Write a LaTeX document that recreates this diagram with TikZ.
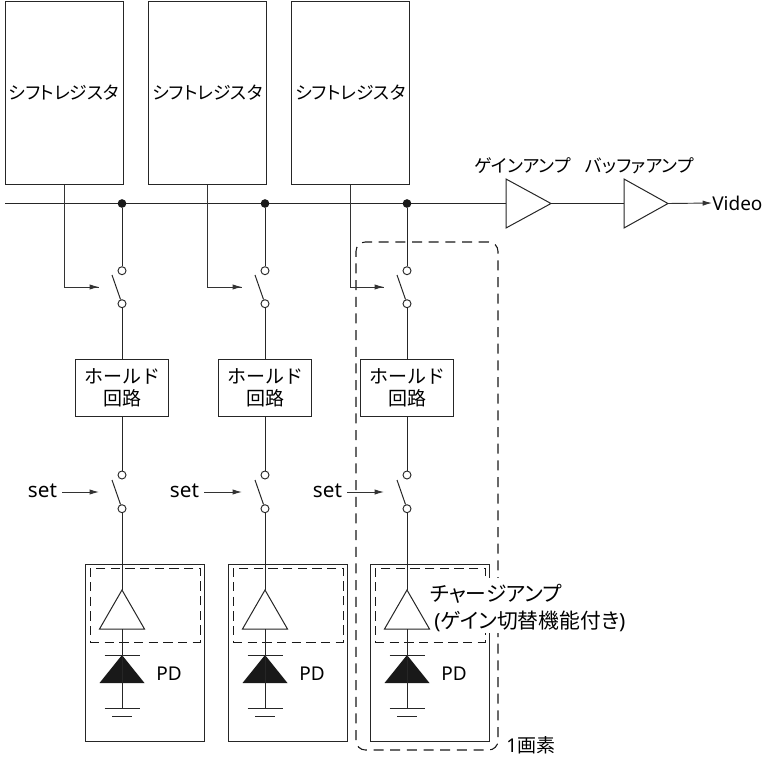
\documentclass[tikz,border=0pt]{standalone}
\usepackage{fontspec}
\setmainfont{Noto Sans}
\newfontfamily\jp{Noto Sans CJK JP}
\newfontfamily\jpp[RawFeature=+palt]{Noto Sans CJK JP}
\usetikzlibrary{arrows.meta}
\newcommand{\fsz}[1]{\fontsize{#1}{#1}\selectfont}
\tikzset{
  every node/.style={font=\fsz{14.25}},
  wire/.style={line width=0.75pt,draw=black!85},
  thin wire/.style={line width=0.7pt,draw=black!80},
  tip/.style={thin wire,-{Latex[length=7pt,width=4pt]}},
  srbox/.style={draw=black!85,line width=0.75pt,minimum width=88.5pt,minimum height=137.25pt,inner sep=0pt},
  holdbox/.style={draw=black!85,line width=0.75pt,minimum width=69.75pt,minimum height=42.75pt,inner sep=0pt,align=center},
  pdbox/.style={draw=black!85,line width=0.75pt,minimum width=89.25pt,minimum height=132.75pt,inner sep=0pt},
  ampbox/.style={draw=black!90,dashed,dash pattern=on 7pt off 4pt,line width=0.75pt,minimum width=82.5pt,minimum height=55.5pt,inner sep=0pt},
  pinc/.style={circle,draw=black!85,fill=white,line width=0.7pt,minimum size=6pt,inner sep=0pt},
  dotn/.style={circle,fill=black!90,minimum size=6.5pt,inner sep=0pt},
  lab/.style={inner sep=0pt},
  tri/.style={draw=black!85,line width=0.75pt,fill=white,line join=miter},
}
\begin{document}
\begin{tikzpicture}[x=0.75pt,y=-0.75pt]
\useasboundingbox (0,0) rectangle (764,758);
% outer dashed 1-pixel frame
\node[draw=black!90,dashed,dash pattern=on 7.5pt off 5pt,line width=0.8pt,rounded corners=7pt,
  minimum width=106.5pt,minimum height=381pt,inner sep=0pt] (pixel) at (427,496) {};
% bus
\coordinate (busL) at (5,203.5);
\coordinate (g1) at (506,203.5);
\coordinate (gTop) at (506,179);
\coordinate (gBot) at (506,228);
\coordinate (g2) at (551,203.5);
\coordinate (b1) at (624,203.5);
\coordinate (bTop) at (624,179);
\coordinate (bBot) at (624,228);
\coordinate (b2) at (668,203.5);
\draw[wire] (busL) -- (g1);
\draw[wire] (g2) -- (b1);
\draw[tri] (gTop) -- (g2) -- (gBot) -- cycle;
\draw[tri] (bTop) -- (b2) -- (bBot) -- cycle;
\node[lab,anchor=west] (video) at (712,203) {Video};
\draw[tip] (b2) -- (video.west);
\node[lab] (gainlab) at (522.5,166) {\fsz{13.4}\jpp ゲインアンプ};
\node[lab] (buflab) at (639.5,166) {\fsz{13.4}\jpp バッファアンプ};
\foreach \i/\c/\s/\sx in {1/122/64/42.5,2/265/207.5/184.5,3/407/350.5/327.5}{
  \node[srbox] (sr\i) at (\s,92.5) {\raisebox{-3pt}{\fsz{13.4}\jpp シフトレジスタ}};
  \node[dotn] (dot\i) at (\c,203.5) {};
  \node[pinc] (swa\i) at (\c,270.7) {};
  \node[pinc] (swb\i) at (\c,303.7) {};
  \coordinate (arm\i) at (\c-10,275);
  \coordinate (ctl\i) at (\c-23,287);
  \node[holdbox] (hold\i) at (\c,387.5) {\raisebox{-2.5pt}{\jp ホールド}\\[2pt]\raisebox{-2.5pt}{\jp 回路}};
  \node[pinc] (ssa\i) at (\c,475) {};
  \node[pinc] (ssb\i) at (\c,508.7) {};
  \coordinate (sarm\i) at (\c-10,480);
  \coordinate (sctl\i) at (\c-23,492);
  \node[lab] (set\i) at (\sx,490.5) {\fsz{15.5}set};
  \node[pdbox] (pd\i) at (\c+22.5,652.5) {};
  \node[ampbox] (amp\i) at (\c+23,605) {};
  \coordinate (apex\i) at (\c,590);
  \coordinate (triL\i) at (\c-22.5,629);
  \coordinate (triR\i) at (\c+22.5,629);
  \coordinate (triB\i) at (\c,629);
  \coordinate (dTop\i) at (\c,655);
  \coordinate (dL\i) at (\c-22.5,683);
  \coordinate (dR\i) at (\c+22.5,683);
  \coordinate (gnd\i) at (\c,708);
  \node[lab] (pdlab\i) at (\c+47,674) {PD};
  % connectors
  \draw[wire] (dot\i) -- (swa\i);
  \draw[wire] (swb\i) -- (hold\i.north);
  \draw[wire] (swb\i) -- (arm\i);
  \draw[thin wire] (sr\i.south) |- (ctl\i);
  \draw[tip] (sr\i.south |- ctl\i) -- (ctl\i);
  \draw[wire] (hold\i.south) -- (ssa\i);
  \draw[wire] (ssb\i) -- (apex\i);
  \draw[wire] (ssb\i) -- (sarm\i);
  \draw[tip] (set\i.east) ++(5,1.5) -- (sctl\i);
  \draw[tri] (apex\i) -- (triR\i) -- (triL\i) -- cycle;
  \draw[wire] (triB\i) -- (dTop\i);
  \draw[wire] ([xshift=-17.5*0.75pt]dTop\i) -- ([xshift=17.5*0.75pt]dTop\i);
  \fill[black!90] (dTop\i) -- (dR\i) -- (dL\i) -- cycle;
  \draw[wire] (dTop\i) -- (gnd\i);
  \draw[wire] ([xshift=-17.5*0.75pt]gnd\i) -- ([xshift=17.5*0.75pt]gnd\i);
  \draw[wire] ([xshift=-10*0.75pt,yshift=-8*0.75pt]gnd\i) -- ([xshift=10*0.75pt,yshift=-8*0.75pt]gnd\i);
}
\node[fill=white,inner sep=0pt,minimum width=147pt,minimum height=41pt] (maskn) at (530,605.5) {};
\node[lab,anchor=west] (chg) at (430,593.5) {\fsz{15.6}\jpp チャージアンプ};
\node[lab,anchor=west] (chg2) at (434,621) {\fsz{15.6}(\jpp ゲイン切替機能付き\normalfont)};
\node[lab,anchor=west] (pxlab) at (506,745) {1\jp 画素};
\end{tikzpicture}
\end{document}
